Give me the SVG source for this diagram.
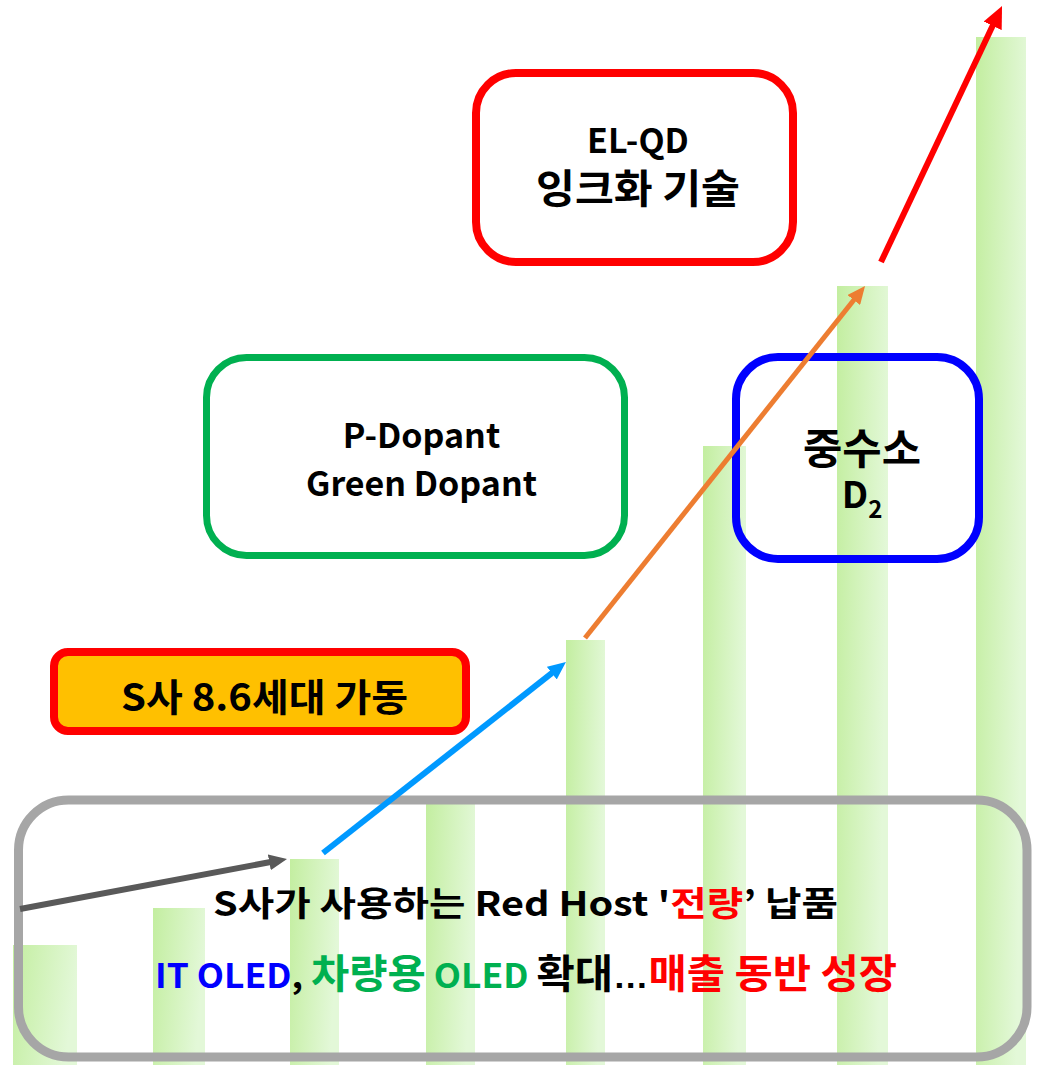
<svg xmlns="http://www.w3.org/2000/svg" width="1046" height="1066" viewBox="0 0 1046 1066">
<style>
.t{font-family:"Noto Sans CJK KR","Noto Sans",sans-serif;font-weight:bold;fill:#000;text-anchor:middle}
.bar{fill:url(#g)}
.el{font-family:"Liberation Sans",sans-serif}
</style>
<defs>
<linearGradient id="g" x1="0" y1="0" x2="1" y2="0.25">
<stop offset="0" stop-color="#c3eea0"/>
<stop offset="1" stop-color="#e3f8d8"/>
</linearGradient>
<marker id="mGray" markerUnits="userSpaceOnUse" markerWidth="18" markerHeight="16" refX="8" refY="8" orient="auto"><path d="M0,0L18,8L0,16z" fill="#595959"/></marker>
<marker id="mBlue" markerUnits="userSpaceOnUse" markerWidth="18" markerHeight="16" refX="8" refY="8" orient="auto"><path d="M0,0L18,8L0,16z" fill="#0099ff"/></marker>
<marker id="mOrange" markerUnits="userSpaceOnUse" markerWidth="18" markerHeight="16" refX="8" refY="8" orient="auto"><path d="M0,0L18,8L0,16z" fill="#ed7d31"/></marker>
<marker id="mRed" markerUnits="userSpaceOnUse" markerWidth="22" markerHeight="20" refX="10" refY="10" orient="auto"><path d="M0,0L22,10L0,20z" fill="#ff0000"/></marker>
</defs>
<rect width="1046" height="1066" fill="#fff"/>
<g id="bars">
<rect class="bar" x="13" y="945" width="64" height="120"/>
<rect class="bar" x="153" y="908" width="52" height="157"/>
<rect class="bar" x="290" y="859" width="49" height="206"/>
<rect class="bar" x="426" y="803" width="49" height="262"/>
<rect class="bar" x="566" y="640" width="39" height="425"/>
<rect class="bar" x="703" y="446" width="43" height="619"/>
<rect class="bar" x="837" y="286" width="51" height="779"/>
<rect class="bar" x="976" y="37" width="50" height="1028"/>
</g>
<g id="summary">
<rect x="18.5" y="800" width="1008.5" height="257" rx="50" fill="none" stroke="#a6a6a6" stroke-width="9"/>
<text class="t" x="525.5" y="916" font-size="34" textLength="625" lengthAdjust="spacingAndGlyphs">S사가 사용하는 Red Host '<tspan fill="#ff0000">전량</tspan>’ 납품</text>
<text class="t" x="526" y="988" font-size="34" textLength="742" lengthAdjust="spacingAndGlyphs"><tspan fill="#0000ff">IT OLED</tspan>, <tspan fill="#00b050"><tspan font-size="40">차량용</tspan> OLED</tspan> <tspan font-size="40">확대</tspan><tspan class="el">…</tspan><tspan fill="#ff0000" font-size="40">매출 동반 성장</tspan></text>
</g>
<g id="node-s86">
<rect x="54" y="652" width="412" height="79" rx="14" fill="#ffc000" stroke="#ff0000" stroke-width="8"/>
<text class="t" x="264.5" y="711" font-size="38" textLength="287" lengthAdjust="spacingAndGlyphs">S사 8.6세대 가동</text>
</g>
<g id="node-pdopant">
<rect x="206.5" y="357.5" width="418" height="198" rx="40" fill="none" stroke="#00b050" stroke-width="7"/>
<text class="t" x="421.5" y="448" font-size="34">P-Dopant</text>
<text class="t" x="421.5" y="496" font-size="34">Green Dopant</text>
</g>
<g id="node-d2">
<rect x="736" y="357" width="243" height="202" rx="42" fill="none" stroke="#0000ff" stroke-width="8"/>
<text class="t" x="862" y="464" font-size="42" textLength="118" lengthAdjust="spacingAndGlyphs">중수소</text>
<text class="t" x="862" y="508" font-size="37">D<tspan font-size="24" dy="10">2</tspan></text>
</g>
<g id="node-elqd">
<rect x="476" y="73" width="317" height="189" rx="40" fill="none" stroke="#ff0000" stroke-width="8"/>
<text class="t" x="638" y="153" font-size="34">EL-QD</text>
<text class="t" x="638" y="203" font-size="40" textLength="204" lengthAdjust="spacingAndGlyphs">잉크화 기술</text>
</g>
<g id="connectors" fill="none" stroke-width="6">
<line x1="20" y1="909" x2="277.2" y2="860.8" stroke="#595959" marker-end="url(#mGray)"/>
<line x1="323" y1="853" x2="558.1" y2="668.2" stroke="#0099ff" marker-end="url(#mBlue)"/>
<line x1="585" y1="638" x2="858.8" y2="293.8" stroke="#ed7d31" stroke-width="5" marker-end="url(#mOrange)"/>
<line x1="881" y1="262" x2="996.9" y2="16.8" stroke="#ff0000" marker-end="url(#mRed)"/>
</g>
</svg>
